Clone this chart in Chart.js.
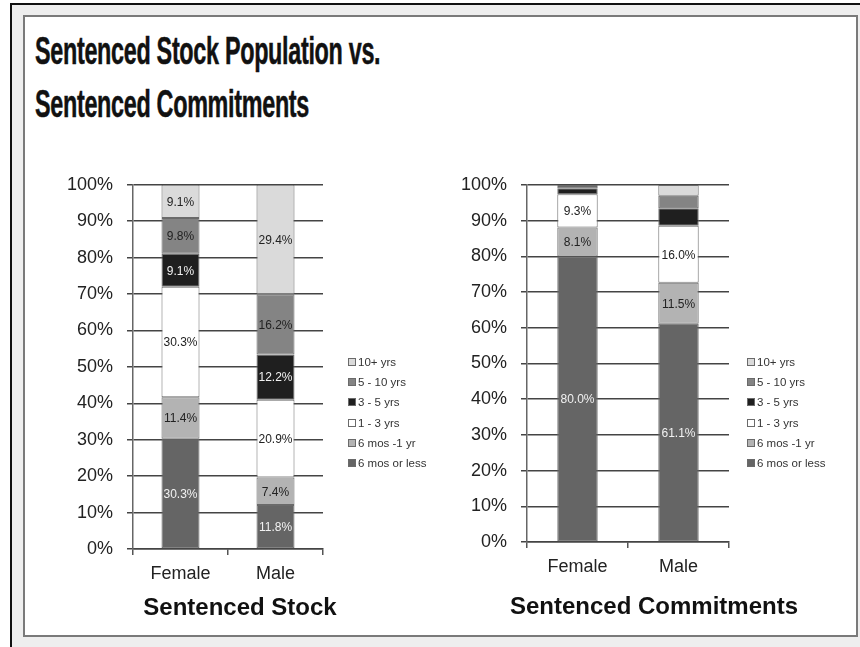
<!DOCTYPE html>
<html>
<head>
<meta charset="utf-8">
<title>Sentenced Stock Population vs. Sentenced Commitments</title>
<script src="https://cdn.jsdelivr.net/npm/chart.js@4.4.1/dist/chart.umd.min.js"></script>
<style>
  body { margin: 0; width: 860px; height: 647px; position: relative; overflow: hidden; background: #fff; font-family: "Liberation Sans", Arial, sans-serif; }
  .abs { position: absolute; }
  #outerTop { left: 11px; top: 3px; width: 849px; height: 2px; background: #111; }
  #outerLeft { left: 10px; top: 3px; width: 2px; height: 644px; background: #111; }
  #band { left: 12px; top: 5px; right: 0; bottom: 0; background: #eeeeee; }
  #frame { left: 23px; top: 15px; width: 835px; height: 622px; border: 2px solid #7a7a7a; background: #fff; box-sizing: border-box; }
  #title { left: 35px; top: 25px; font-weight: bold; font-size: 38px; line-height: 53px; color: #111;
           letter-spacing: -0.5px; -webkit-text-stroke: 0.5px #111;
           transform: scaleX(0.615); transform-origin: 0 0; white-space: nowrap; }
  .subtitle { font-weight: bold; font-size: 24px; line-height: 28px; text-align: center; color: #111; white-space: nowrap; }
  .legend { font-size: 11.5px; color: #333; }
  .legend div { height: 20.2px; line-height: 14px; white-space: nowrap; }
  .legend span { display: inline-block; width: 6px; height: 6px; border: 1px solid #6a6a6a; margin-right: 2px; vertical-align: 0px; }
  canvas { position: absolute; }
</style>
</head>
<body>
<div id="outerTop" class="abs"></div>
<div id="outerLeft" class="abs"></div>
<div id="band" class="abs"></div>
<div id="frame" class="abs"></div>
<div id="title" class="abs">Sentenced Stock Population vs.<br>Sentenced Commitments</div>

<canvas id="stockChart" width="345" height="447" style="left:0px;top:160px"></canvas>
<canvas id="commitChart" width="440" height="440" style="left:400px;top:160px"></canvas>

<div id="stockLegend" class="abs legend" style="left:348px;top:355px"></div>
<div id="commitLegend" class="abs legend" style="left:747px;top:355px"></div>

<div class="abs subtitle" style="left:140px;top:593px;width:200px">Sentenced Stock</div>
<div class="abs subtitle" style="left:504px;top:592px;width:300px">Sentenced Commitments</div>

<script>
// categories and segments (bottom to top)
const groups = ['Female', 'Male'];
const segments = ['6 mos or less', '6 mos -1 yr', '1 - 3 yrs', '3 - 5 yrs', '5 - 10 yrs', '10+ yrs'];
const segmentColors = ['#656565', '#b3b3b3', '#ffffff', '#1f1f1f', '#848484', '#dadada'];
const labelColors = ['#f2f2f2', '#222222', '#222222', '#f2f2f2', '#222222', '#222222'];

// percentages (unlabelled thin slices estimated)
const stockFemale = [30.3, 11.4, 30.3, 9.1, 9.8, 9.1];
const stockMale = [11.8, 7.4, 20.9, 12.2, 16.2, 29.4];
const commitFemale = [80.0, 8.1, 9.3, 1.7, 0.6, 0.3];
const commitMale = [61.1, 11.5, 16.0, 4.9, 3.5, 3.0];

const tickFont = { family: '"Liberation Sans", Arial, sans-serif', size: 18 };

// draws the % value in the middle of each segment big enough to hold it
const segmentLabels = {
  id: 'segmentLabels',
  afterDatasetsDraw(chart) {
    const ctx = chart.ctx;
    ctx.save();
    ctx.font = '12px "Liberation Sans", Arial, sans-serif';
    ctx.textAlign = 'center';
    ctx.textBaseline = 'middle';
    chart.data.datasets.forEach((ds, i) => {
      chart.getDatasetMeta(i).data.forEach((bar, j) => {
        const raw = ds.rawValues[j];
        if (raw < 5) return;
        ctx.fillStyle = labelColors[i];
        ctx.fillText(raw.toFixed(1) + '%', bar.x, (bar.y + bar.base) / 2 + 1);
      });
    });
    ctx.restore();
  }
};

function buildChart(id, female, male, yWidth, padding) {
  // 100% stacked: each column is scaled to its own total
  const totalF = female.reduce((a, b) => a + b, 0);
  const totalM = male.reduce((a, b) => a + b, 0);

  const datasets = segments.map((name, i) => ({
    label: name,
    data: [female[i] / totalF * 100, male[i] / totalM * 100],
    rawValues: [female[i], male[i]],
    backgroundColor: segmentColors[i],
    borderColor: '#6a6a6a',
    borderWidth: 1,
    borderSkipped: false,
    barPercentage: 0.4,
    categoryPercentage: 1.0
  }));

  return new Chart(document.getElementById(id), {
    type: 'bar',
    data: { labels: groups, datasets },
    options: {
      responsive: false,
      animation: false,
      layout: { padding },
      plugins: { legend: { display: false }, tooltip: { enabled: false } },
      scales: {
        x: {
          stacked: true,
          grid: { display: true, drawOnChartArea: false, offset: true, tickLength: 6, color: '#555', lineWidth: 1.5 },
          border: { display: true, color: '#444', width: 1.5 },
          ticks: { font: tickFont, color: '#222', padding: 8 },
          afterFit: s => { s.height = 58; }
        },
        y: {
          stacked: true,
          min: 0,
          max: 100,
          ticks: { stepSize: 10, font: tickFont, color: '#222', padding: 14, callback: v => v + '%' },
          grid: { color: '#444', lineWidth: 1.5, tickLength: 6 },
          border: { display: true, color: '#666', width: 1.5 },
          afterFit: s => { s.width = yWidth; }
        }
      }
    },
    plugins: [segmentLabels]
  });
}

function buildLegend(id) {
  const el = document.getElementById(id);
  segments.slice().reverse().forEach(name => {
    const row = document.createElement('div');
    const sw = document.createElement('span');
    sw.style.background = segmentColors[segments.indexOf(name)];
    row.appendChild(sw);
    row.appendChild(document.createTextNode(name));
    el.appendChild(row);
  });
}

buildChart('stockChart', stockFemale, stockMale, 133, { top: 22, right: 22, left: 0, bottom: 0 });
buildChart('commitChart', commitFemale, commitMale, 127, { top: 25, right: 111, left: 0, bottom: 0 });
buildLegend('stockLegend');
buildLegend('commitLegend');
</script>
</body>
</html>
